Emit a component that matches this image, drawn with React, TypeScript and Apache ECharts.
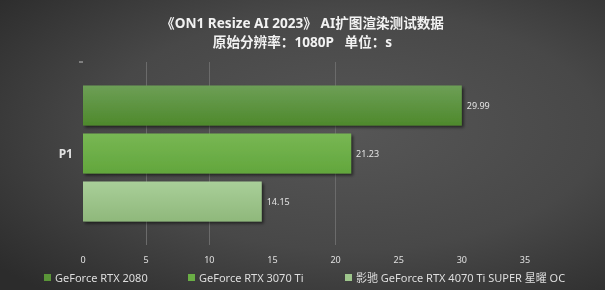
import React, { useEffect, useRef } from "react";
import * as echarts from "echarts";

const titleLines = ["《ON1 Resize AI 2023》 AI扩图渲染测试数据", "原始分辨率：1080P   单位：s"];
const categories = ["P1"];
const seriesNames = [
  "GeForce RTX 2080",
  "GeForce RTX 3070 Ti",
  "影驰 GeForce RTX 4070 Ti SUPER 星曜 OC",
];
const valuesRtx2080 = [29.99];
const valuesRtx3070Ti = [21.23];
const valuesRtx4070TiSuper = [14.15];
const xMin = 0;
const xMax = 35;
const xInterval = 5;

const FONT = "'Noto Sans', 'Noto Sans CJK SC', sans-serif";

const grad = (top: string, bottom: string) =>
  new echarts.graphic.LinearGradient(0, 0, 0, 1, [
    { offset: 0, color: top },
    { offset: 1, color: bottom },
  ]);

const barColors = [
  ["#6d9f56", "#4e892c"],
  ["#78b754", "#62a63c"],
  ["#a9cf99", "#8fb87b"],
];
const legendColors = ["#5a9538", "#6aae45", "#9ec68c"];
const legendLefts = [44, 188, 345];

export default function App() {
  const ref = useRef<HTMLDivElement>(null);
  useEffect(() => {
    if (!ref.current) return;
    const chart = echarts.init(ref.current, null, { renderer: "svg" });
    const seriesValues = [valuesRtx2080, valuesRtx3070Ti, valuesRtx4070TiSuper];
    const gridColor = "#6b6b6b";
    chart.setOption({
      animation: false,
      backgroundColor: new echarts.graphic.RadialGradient(0.58, 0.45, 0.75, [
        { offset: 0, color: "#565656" },
        { offset: 0.55, color: "#484848" },
        { offset: 1, color: "#2c2c2c" },
      ]),
      title: {
        text: titleLines.join("\n"),
        left: "center",
        top: 8,
        textStyle: {
          color: "#f2f2f2",
          fontSize: 13.6,
          fontWeight: "bold",
          fontFamily: FONT,
          lineHeight: 19,
        },
      },
      legend: seriesNames.map((name, i) => ({
        data: [{ name, itemStyle: { color: legendColors[i] } }],
        left: legendLefts[i],
        top: 272,
        itemWidth: 7,
        itemHeight: 7,
        itemGap: 0,
        icon: "rect",
        padding: 0,
        textStyle: {
          color: "#dedede",
          fontSize: 11,
          fontFamily: FONT,
          padding: [0, 0, 0, -1],
        },
      })),
      grid: { left: 83, right: 80, top: 62, bottom: 45, containLabel: false },
      xAxis: {
        type: "value",
        min: xMin,
        max: xMax,
        interval: xInterval,
        axisLine: { show: false },
        axisTick: { show: false },
        axisLabel: {
          color: "#e0e0e0",
          fontSize: 9,
          fontFamily: FONT,
          margin: 10,
        },
        splitLine: {
          show: true,
          showMinLine: true,
          showMaxLine: true,
          lineStyle: {
            width: 1,
            color: [
              "rgba(0,0,0,0)",
              gridColor,
              gridColor,
              "rgba(0,0,0,0)",
              gridColor,
              "rgba(0,0,0,0)",
              "rgba(0,0,0,0)",
              "rgba(0,0,0,0)",
            ],
          },
        },
      },
      yAxis: {
        type: "category",
        data: categories,
        inverse: true,
        axisLine: { show: false },
        axisTick: { show: false },
        axisLabel: {
          color: "#e2e2e2",
          fontSize: 12,
          fontWeight: "bold",
          fontFamily: FONT,
          margin: 10,
        },
      },
      graphic: [
        {
          type: "line",
          shape: { x1: 79, y1: 62, x2: 83, y2: 62 },
          style: { stroke: "#bdbdbd", lineWidth: 1 },
        },
      ],
      series: seriesNames.map((name, i) => ({
        name,
        type: "bar",
        data: seriesValues[i],
        barWidth: 40,
        barGap: "20%",
        itemStyle: {
          color: grad(barColors[i][0], barColors[i][1]),
          shadowColor: "rgba(0,0,0,0.55)",
          shadowBlur: 3,
          shadowOffsetX: 2,
          shadowOffsetY: 2,
        },
        label: {
          show: true,
          position: "right",
          distance: 5,
          color: "#e4e4e4",
          fontSize: 9,
          fontFamily: FONT,
          formatter: (p: any) => Number(p.value).toFixed(2),
        },
      })),
    });
    return () => chart.dispose();
  }, []);
  return (
    <div
      ref={ref}
      style={{ position: "fixed", left: 0, top: 0, width: 605, height: 290 }}
    />
  );
}
